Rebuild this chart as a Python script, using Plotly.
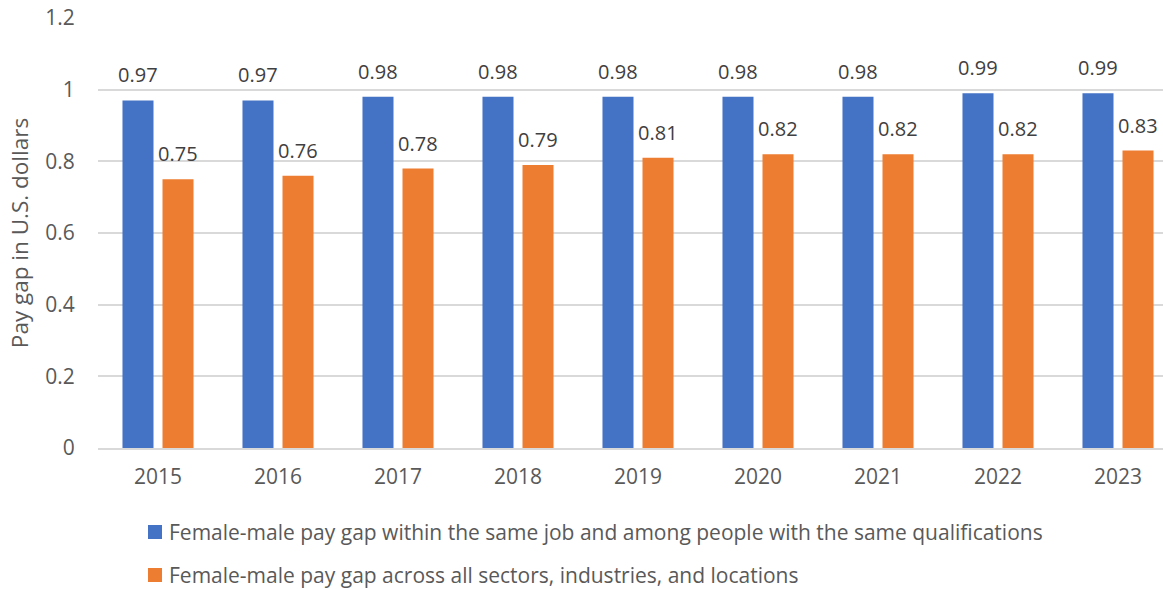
import plotly.graph_objects as go

years = ["2015", "2016", "2017", "2018", "2019", "2020", "2021", "2022", "2023"]
same_job = [0.97, 0.97, 0.98, 0.98, 0.98, 0.98, 0.98, 0.99, 0.99]
all_sectors = [0.75, 0.76, 0.78, 0.79, 0.81, 0.82, 0.82, 0.82, 0.83]
series_names = [
    "Female-male pay gap within the same job and among people with the same qualifications",
    "Female-male pay gap across all sectors, industries, and locations",
]
colors = ["#4472C4", "#ED7D31"]
y_ticks = [0, 0.2, 0.4, 0.6, 0.8, 1.0, 1.2]
y_tick_text = ["0", "0.2", "0.4", "0.6", "0.8", "1", "1.2"]

FONT = "Open Sans"
TEXT = "#595959"
LABEL = "#404040"
GRID = "#D9D9D9"

W, H = 1163, 589
L, T, B = 98, 18, 141
PLOT_W = 1065          # visible part of the plot area
PLOT_H = H - T - B


def px_x(px):
    return (px - L) / PLOT_W


def px_y(py):
    return (H - B - py) / PLOT_H


fig = go.Figure()
series = [same_job, all_sectors]
for name, vals, color in zip(series_names, series, colors):
    fig.add_trace(go.Bar(
        x=years, y=vals, name=name, showlegend=False,
        marker=dict(color=color, line=dict(width=0)),
    ))

# value labels above each bar (category index as x position)
annotations = []
for vals, shift in zip(series, [-20, 20]):
    for i, v in enumerate(vals):
        annotations.append(dict(
            x=i, y=v, xref="x", yref="y", text=f"{v:g}",
            showarrow=False, xanchor="center", yanchor="bottom",
            xshift=shift, yshift=10,
            font=dict(family=FONT, size=20, color=LABEL),
        ))

# legend drawn below the plot
shapes = []
legend_rows = [532, 575]
for name, color, row in zip(series_names, colors, legend_rows):
    shapes.append(dict(
        type="rect", xref="paper", yref="paper",
        x0=px_x(148), x1=px_x(162), y0=px_y(row + 7), y1=px_y(row - 7),
        fillcolor=color, line=dict(width=0),
    ))
    annotations.append(dict(
        x=px_x(167), y=px_y(row), xref="paper", yref="paper",
        text=name, showarrow=False, xanchor="left", yanchor="middle",
        font=dict(family=FONT, size=21, color=TEXT),
    ))

fig.update_layout(
    width=W, height=H,
    margin=dict(l=L, r=0, t=T, b=B),
    plot_bgcolor="white", paper_bgcolor="white",
    barmode="group", bargap=0.333, bargroupgap=0.225,
    font=dict(family=FONT, size=21, color=TEXT),
    showlegend=False,
    annotations=annotations,
    shapes=shapes,
)
fig.update_xaxes(
    type="category", range=[-0.5, -0.5 + PLOT_W / 120], automargin=False,
    showline=True, linecolor=GRID, linewidth=2,
    ticks="outside", ticklen=9, tickcolor="rgba(0,0,0,0)",
    tickfont=dict(family=FONT, size=21, color=TEXT),
    showgrid=False, zeroline=False,
)
fig.update_yaxes(
    range=[0, 1.2], tickvals=y_ticks, ticktext=y_tick_text, automargin=False,
    showgrid=True, gridcolor=GRID, gridwidth=1.5, zeroline=False,
    ticks="outside", ticklen=18, tickcolor="rgba(0,0,0,0)",
    tickfont=dict(family=FONT, size=21, color=TEXT),
    title=dict(text="Pay gap in U.S. dollars", standoff=10,
               font=dict(family=FONT, size=22.5, color=TEXT)),
)

fig.write_html("out.html")
